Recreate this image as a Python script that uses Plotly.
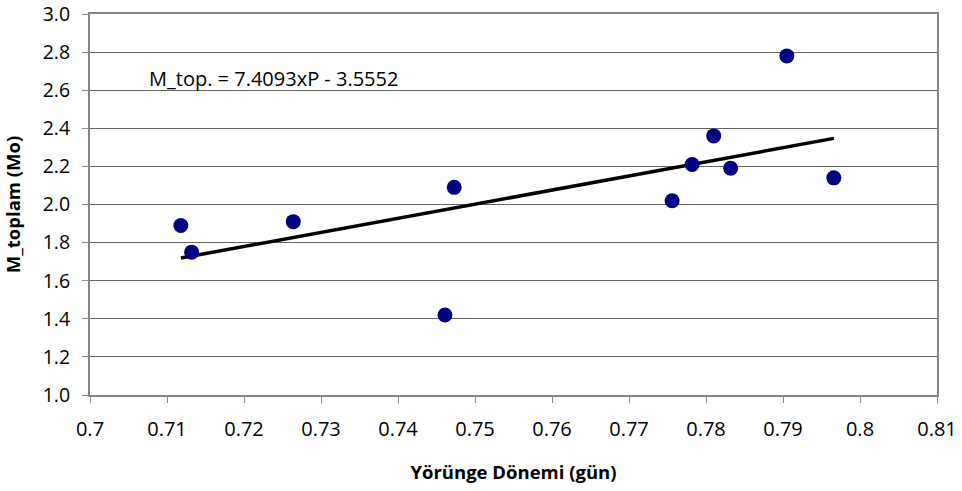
import plotly.graph_objects as go
import numpy as np

period = [0.7118, 0.7132, 0.7264, 0.7461, 0.7473, 0.7756, 0.7782, 0.7810, 0.7832, 0.7905, 0.7966]
mass = [1.89, 1.75, 1.91, 1.42, 2.09, 2.02, 2.21, 2.36, 2.19, 2.78, 2.14]
slope, intercept = 7.4093, -3.5552
x_ticks = [0.70, 0.71, 0.72, 0.73, 0.74, 0.75, 0.76, 0.77, 0.78, 0.79, 0.80, 0.81]
x_tick_text = ["0.7", "0.71", "0.72", "0.73", "0.74", "0.75", "0.76", "0.77", "0.78", "0.79", "0.8", "0.81"]
y_ticks = [1.0, 1.2, 1.4, 1.6, 1.8, 2.0, 2.2, 2.4, 2.6, 2.8, 3.0]

fit_x = np.array([min(period), max(period)])
fit_y = slope * fit_x + intercept

FONT = "'Open Sans', Lato, sans-serif"

fig = go.Figure()
fig.add_trace(go.Scatter(x=fit_x, y=fit_y, mode="lines",
                         line=dict(color="black", width=3.5), hoverinfo="skip"))
fig.add_trace(go.Scatter(x=period, y=mass, mode="markers",
                         marker=dict(color="#000080", size=15)))

fig.add_annotation(x=0.70745, y=2.66, xref="x", yref="y", xanchor="left", yanchor="middle",
                   text="M_top. = 7.4093xP - 3.5552", showarrow=False,
                   font=dict(family=FONT, size=20, color="black"))

fig.update_layout(
    width=962, height=491,
    margin=dict(l=90, r=25, t=14, b=96),
    paper_bgcolor="white", plot_bgcolor="white",
    showlegend=False,
    font=dict(family=FONT, size=20, color="black"),
    xaxis=dict(range=[0.70, 0.81], tickvals=x_ticks, ticktext=x_tick_text,
               showgrid=False, zeroline=False, automargin=False,
               showline=True, linecolor="#868686", linewidth=2, mirror=True,
               ticks="outside", ticklen=6, tickcolor="#868686", tickwidth=1,
               ticklabelstandoff=9, ticklabeloverflow="allow",
               title=dict(text="<b>Yörünge Dönemi (gün)</b>", font=dict(size=18.5), standoff=25)),
    yaxis=dict(range=[1.0, 3.0], tickvals=y_ticks, tickformat=".1f",
               showgrid=True, gridcolor="#666666", gridwidth=1, zeroline=False, automargin=False,
               showline=True, linecolor="#868686", linewidth=2, mirror=True,
               ticks="outside", ticklen=6, tickcolor="#868686", tickwidth=1,
               ticklabelstandoff=8, ticklabeloverflow="allow", tickfont=dict(size=19.5),
               title=dict(text="<b>M_toplam (Mo)</b>", font=dict(size=18.5), standoff=17)),
)

fig.write_html("out.html")
